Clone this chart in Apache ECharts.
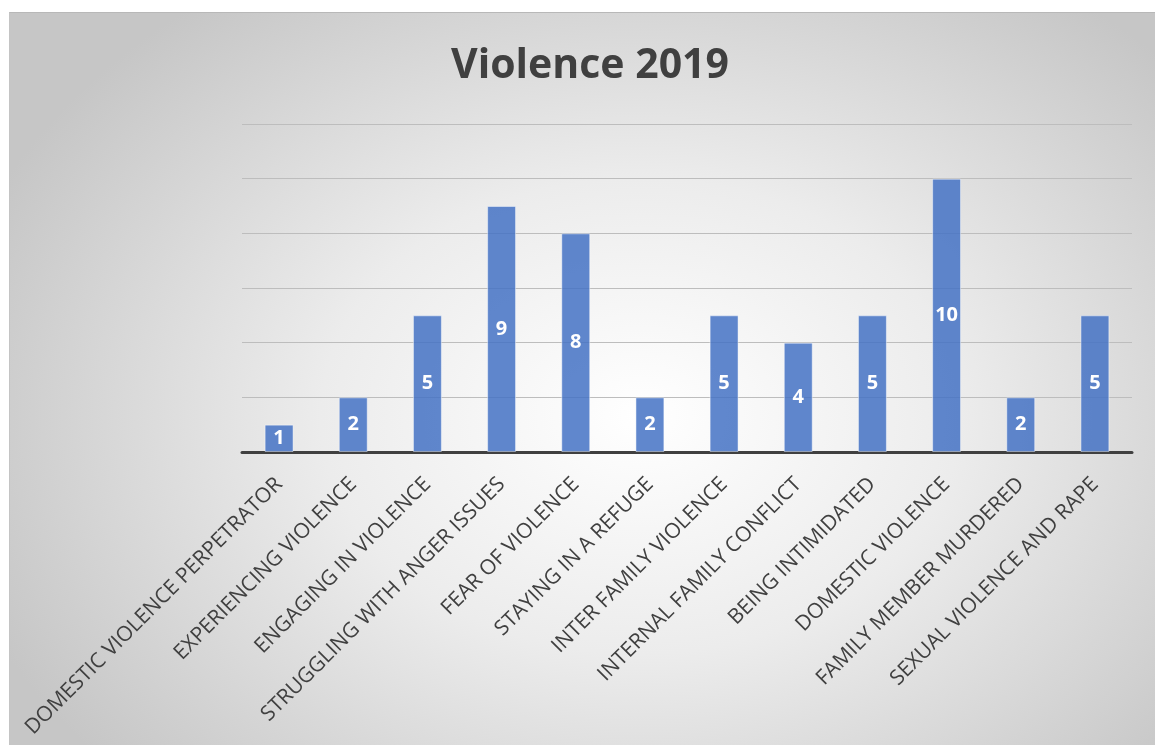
<!DOCTYPE html>
<html>
<head>
<meta charset="utf-8">
<script src="https://cdn.jsdelivr.net/npm/echarts@6/dist/echarts.min.js"></script>
<style>
  html, body { margin: 0; padding: 0; background: #ffffff; overflow: hidden; }
  #frame {
    position: absolute; left: 9px; top: 12px; width: 1146px; height: 733px;
    border-top: 1px solid #b8b8b8; border-left: 1px solid #c4c4c4;
    background: radial-gradient(ellipse 62% 72% at 55% 55%, #ffffff 0%, #ececec 45%, #c6c6c6 100%);
  }
  #chart { position: absolute; left: 0; top: 0; width: 1155px; height: 745px; }
</style>
</head>
<body>
<div id="frame"></div>
<div id="chart"></div>
<script>
// Reported violence topics, 2019
const categories = [
  'DOMESTIC VIOLENCE PERPETRATOR',
  'EXPERIENCING VIOLENCE',
  'ENGAGING IN VIOLENCE',
  'STRUGGLING WITH ANGER ISSUES',
  'FEAR OF VIOLENCE',
  'STAYING IN A REFUGE',
  'INTER FAMILY VIOLENCE',
  'INTERNAL FAMILY CONFLICT',
  'BEING INTIMIDATED',
  'DOMESTIC VIOLENCE',
  'FAMILY MEMBER MURDERED',
  'SEXUAL VIOLENCE AND RAPE'
];
const counts = [1, 2, 5, 9, 8, 2, 5, 4, 5, 10, 2, 5];
const titleText = 'Violence 2019';

const chart = echarts.init(document.getElementById('chart'), null, { renderer: 'canvas' });
chart.setOption({
  backgroundColor: 'transparent',
  animation: false,
  title: {
    text: titleText,
    left: 585,
    top: 41,
    textAlign: 'center',
    textStyle: { fontFamily: 'Open Sans', fontWeight: 'bold', fontSize: 41, color: '#404040' }
  },
  grid: { left: 242, right: 23, top: 124, bottom: 293, containLabel: false },
  xAxis: {
    type: 'category',
    data: categories,
    axisLine: { show: true, lineStyle: { color: '#404040', width: 3 } },
    axisTick: { show: false },
    axisLabel: {
      interval: 0,
      rotate: 45,
      margin: 29,
      fontFamily: 'Open Sans',
      fontSize: 21,
      color: '#404040'
    }
  },
  yAxis: {
    type: 'value',
    min: 0,
    max: 12,
    interval: 2,
    axisLine: { show: false },
    axisTick: { show: false },
    axisLabel: { show: false },
    splitLine: { show: true, lineStyle: { color: '#bdbdbd', width: 1 } }
  },
  series: [{
    type: 'bar',
    data: counts,
    barWidth: '39%',
    itemStyle: {
      color: 'rgba(68,114,196,0.85)',
      borderColor: 'rgba(255,255,255,0.45)',
      borderWidth: 1
    },
    label: {
      show: true,
      position: 'inside',
      fontFamily: 'Open Sans',
      fontWeight: 'bold',
      fontSize: 20,
      color: '#ffffff'
    }
  }]
});
</script>
</body>
</html>
